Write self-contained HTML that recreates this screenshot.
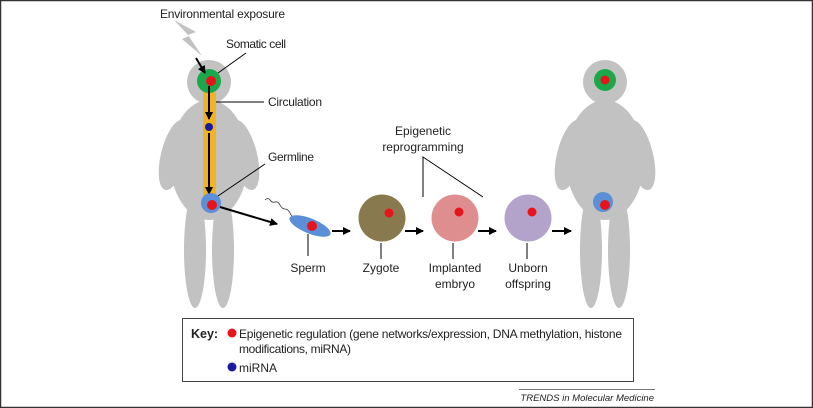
<!DOCTYPE html>
<html><head><meta charset="utf-8"><style>
html,body{margin:0;padding:0;background:#fff}
svg{display:block}
text{font-family:"Liberation Sans",sans-serif;fill:#222}
</style></head><body>
<svg width="813" height="408" viewBox="0 0 813 408" xmlns="http://www.w3.org/2000/svg">
<defs>
<marker id="ah" markerWidth="8" markerHeight="8" refX="7" refY="4" orient="auto" markerUnits="userSpaceOnUse">
<path d="M0,0 L8,4 L0,8 z" fill="#000"/></marker>
<g id="person" fill="#c2c2c2">
<circle cx="0" cy="82" r="22"/>
<ellipse cx="-35" cy="155" rx="13" ry="36" transform="rotate(14 -35 155)"/>
<ellipse cx="35" cy="155" rx="13" ry="36" transform="rotate(-14 35 155)"/>
<ellipse cx="0" cy="160" rx="39" ry="60"/>
<ellipse cx="-14" cy="250" rx="11" ry="58"/>
<ellipse cx="14" cy="250" rx="11" ry="58"/>
</g>
</defs>
<rect x="0.5" y="0.5" width="812" height="407" fill="#fff" stroke="#333" stroke-width="1.5"/>

<use href="#person" x="209"/>
<use href="#person" x="605"/>

<rect x="203" y="92" width="13" height="110" fill="#f0b323"/>
<circle cx="209" cy="81" r="12" fill="#1aa84a"/>
<circle cx="211" cy="81" r="5" fill="#e8141b"/>
<polygon points="174,20 196,32 188,35 202,56 182,39 189,36" fill="#c2c2c2"/>
<line x1="196" y1="58" x2="205" y2="73" stroke="#000" stroke-width="2" marker-end="url(#ah)"/>
<line x1="209" y1="86" x2="209" y2="119" stroke="#000" stroke-width="2" marker-end="url(#ah)"/>
<circle cx="209" cy="127" r="4" fill="#1a1aa0"/>
<line x1="209" y1="133" x2="209" y2="194" stroke="#000" stroke-width="2" marker-end="url(#ah)"/>
<circle cx="211" cy="203" r="10" fill="#5b8fd8"/>
<circle cx="212" cy="205" r="5" fill="#e8141b"/>
<line x1="220" y1="207" x2="277" y2="224" stroke="#000" stroke-width="2" marker-end="url(#ah)"/>

<text x="160" y="18" font-size="12" textLength="125">Environmental exposure</text>
<text x="226" y="48" font-size="12" textLength="60">Somatic cell</text>
<line x1="218" y1="73" x2="246" y2="53" stroke="#000" stroke-width="1"/>
<text x="268" y="106" font-size="12" textLength="54">Circulation</text>
<line x1="216" y1="102" x2="264" y2="102" stroke="#000" stroke-width="1"/>
<text x="268" y="161" font-size="12" textLength="46">Germline</text>
<line x1="218" y1="196" x2="265" y2="164" stroke="#000" stroke-width="1"/>

<path d="M265,200 q3,-3 5,0 t5,2 t5,3 t5,4 t5,4 t4,5" fill="none" stroke="#333" stroke-width="0.8"/>
<ellipse cx="310" cy="226" rx="22" ry="7.5" fill="#5b8fd8" transform="rotate(22 310 226)"/>
<circle cx="312" cy="226" r="5" fill="#e8141b"/>
<line x1="308" y1="234" x2="308" y2="256" stroke="#000" stroke-width="1"/>
<text x="308" y="272" font-size="12" text-anchor="middle">Sperm</text>
<line x1="332" y1="231" x2="350" y2="231" stroke="#000" stroke-width="2" marker-end="url(#ah)"/>

<circle cx="382" cy="218" r="23.5" fill="#887a4e"/>
<circle cx="389" cy="213" r="4.5" fill="#e8141b"/>
<line x1="381" y1="243" x2="381" y2="259" stroke="#000" stroke-width="1"/>
<text x="381" y="272" font-size="12" text-anchor="middle">Zygote</text>
<line x1="405" y1="231" x2="423" y2="231" stroke="#000" stroke-width="2" marker-end="url(#ah)"/>

<circle cx="455" cy="218" r="23.5" fill="#df8e8f"/>
<circle cx="459" cy="212" r="4.5" fill="#e8141b"/>
<line x1="453" y1="243" x2="453" y2="259" stroke="#000" stroke-width="1"/>
<text x="455" y="272" font-size="12" text-anchor="middle">Implanted</text>
<text x="455" y="288" font-size="12" text-anchor="middle">embryo</text>
<line x1="478" y1="231" x2="496" y2="231" stroke="#000" stroke-width="2" marker-end="url(#ah)"/>

<circle cx="528" cy="218" r="23.5" fill="#b3a2c9"/>
<circle cx="532" cy="212" r="4.5" fill="#e8141b"/>
<line x1="527" y1="243" x2="527" y2="259" stroke="#000" stroke-width="1"/>
<text x="528" y="272" font-size="12" text-anchor="middle">Unborn</text>
<text x="528" y="288" font-size="12" text-anchor="middle">offspring</text>
<line x1="552" y1="231" x2="571" y2="231" stroke="#000" stroke-width="2" marker-end="url(#ah)"/>

<text x="423" y="135" font-size="12" text-anchor="middle">Epigenetic</text>
<text x="423" y="151" font-size="12" text-anchor="middle">reprogramming</text>
<polyline points="423,197 423,157 483,197" fill="none" stroke="#000" stroke-width="1"/>

<circle cx="605" cy="80" r="11" fill="#1aa84a"/>
<circle cx="605" cy="80" r="4.5" fill="#e8141b"/>
<circle cx="603" cy="202" r="10" fill="#5b8fd8"/>
<circle cx="605" cy="205" r="5" fill="#e8141b"/>

<rect x="182.5" y="318.5" width="451" height="63" fill="#fff" stroke="#444" stroke-width="1"/>
<text x="191" y="338" font-size="12.5" font-weight="bold">Key:</text>
<circle cx="232" cy="333" r="4.5" fill="#e8141b"/>
<text x="239" y="338" font-size="12" textLength="383">Epigenetic regulation (gene networks/expression, DNA methylation, histone</text>
<text x="239" y="353" font-size="12" textLength="112">modifications, miRNA)</text>
<circle cx="232" cy="367" r="4.5" fill="#1a1aa0"/>
<text x="239" y="372" font-size="12">miRNA</text>

<line x1="519" y1="389.5" x2="655" y2="389.5" stroke="#777" stroke-width="1"/>
<text x="654" y="401" font-size="9.5" font-style="italic" text-anchor="end" fill="#333">TRENDS in Molecular Medicine</text>
</svg>
</body></html>
